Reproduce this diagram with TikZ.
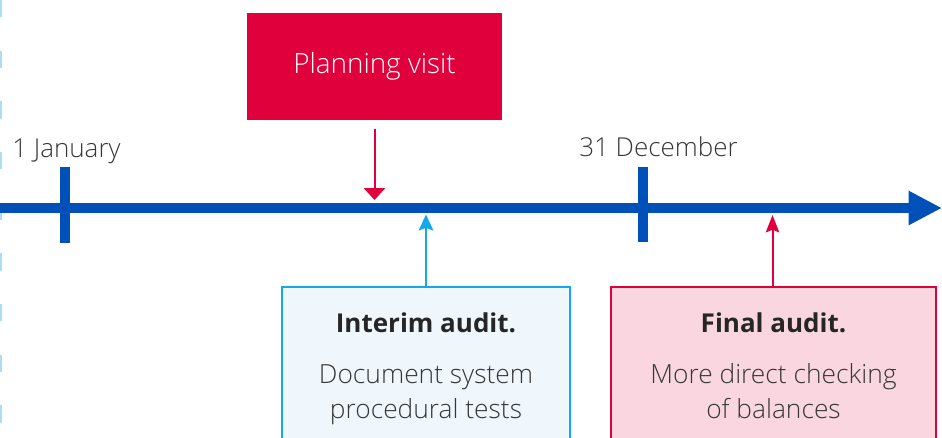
\documentclass[tikz,border=0pt]{standalone}
\usepackage{fontspec}
\IfFontExistsTF{Open Sans Light}{%
  \setmainfont{Open Sans}[UprightFont={* Light},BoldFont={* Bold}]%
}{%
  \setmainfont{Open Sans}%
}
\usetikzlibrary{arrows.meta}
\definecolor{tlblue}{RGB}{0,80,186}
\definecolor{auditred}{RGB}{224,0,60}
\definecolor{auditcyan}{RGB}{18,169,232}
\definecolor{lightfill}{RGB}{239,247,253}
\definecolor{pinkfill}{RGB}{249,214,224}
\definecolor{txtgray}{RGB}{55,55,55}
\definecolor{edgeblue}{RGB}{170,222,246}
\tikzset{
  datelabel/.style={anchor=base west, font=\fontsize{19.5}{22}\selectfont, text=txtgray, inner sep=0pt},
  tick/.style={draw=tlblue, line width=7.5pt},
  boxtitle/.style={anchor=base, font=\fontsize{19.5}{22}\selectfont\bfseries, text=black!85, inner sep=0pt},
  boxtext/.style={anchor=base, font=\fontsize{19.75}{22}\selectfont, text=txtgray, inner sep=0pt},
  redconn/.style={draw=auditred, line width=1.5pt},
  cyanconn/.style={draw=auditcyan, line width=1.5pt},
}
\begin{document}
\begin{tikzpicture}[x=0.75pt,y=-0.75pt]
\useasboundingbox (0,0) rectangle (942,437);
\clip (0,0) rectangle (942,437);
% left edge dashed trace
\draw[edgeblue, line width=2.5pt, dash pattern=on 13pt off 25pt] (0.5,0) -- (0.5,437);
% planning visit box
\node[fill=auditred, minimum width=191.25pt, minimum height=80.25pt, inner sep=0pt,
      text=white, font=\fontsize{20.9}{24}\selectfont] (plan) at (374.5,66.5) {Planning visit};
% timeline
\coordinate (tlstart) at (0,208);
\coordinate (tlend) at (942,208);
\draw[draw=tlblue, line width=7.5pt, -{Triangle[length=25pt,width=24pt]}] (tlstart) -- (tlend);
% ticks
\coordinate (jantop) at (65,167);
\coordinate (janbot) at (65,243);
\coordinate (dectop) at (642.5,167);
\coordinate (decbot) at (642.5,242);
\draw[tick] (jantop) -- (janbot);
\draw[tick] (dectop) -- (decbot);
\node[datelabel] (jan) at (12,157) {1 January};
\node[datelabel] (dec) at (579,156) {31 December};
% audit boxes
\node[draw=auditcyan, fill=lightfill, line width=1.5pt, minimum width=216pt, minimum height=150pt,
      anchor=north, inner sep=0pt] (interim) at (426,286) {};
\node[draw=auditred, fill=pinkfill, line width=1.5pt, minimum width=243.75pt, minimum height=150pt,
      anchor=north, inner sep=0pt] (final) at (773.5,286) {};
\node[boxtitle] (intT) at (426,332) {Interim audit.};
\node[boxtext] (intA) at (426,383) {Document system};
\node[boxtext] (intB) at (426,418) {procedural tests};
\node[boxtitle] (finT) at (773.5,332) {Final audit.};
\node[boxtext] (finA) at (773.5,383) {More direct checking};
\node[boxtext] (finB) at (773.5,418) {of balances};
% connectors
\coordinate (planhit) at (374.5,200);
\coordinate (interimhit) at (426,214.5);
\coordinate (finalhit) at (772.5,215);
\draw[redconn, -{Triangle[length=9pt,width=16pt]}, shorten <=6.75pt] (plan.south) -- (planhit);
\draw[cyanconn, -{Stealth[length=12pt,width=11pt,inset=2pt]}] (interim.north) -- (interimhit);
\draw[redconn, -{Stealth[length=13pt,width=10pt,inset=2pt]}] (final.north -| finalhit) -- (finalhit);
\end{tikzpicture}
\end{document}
